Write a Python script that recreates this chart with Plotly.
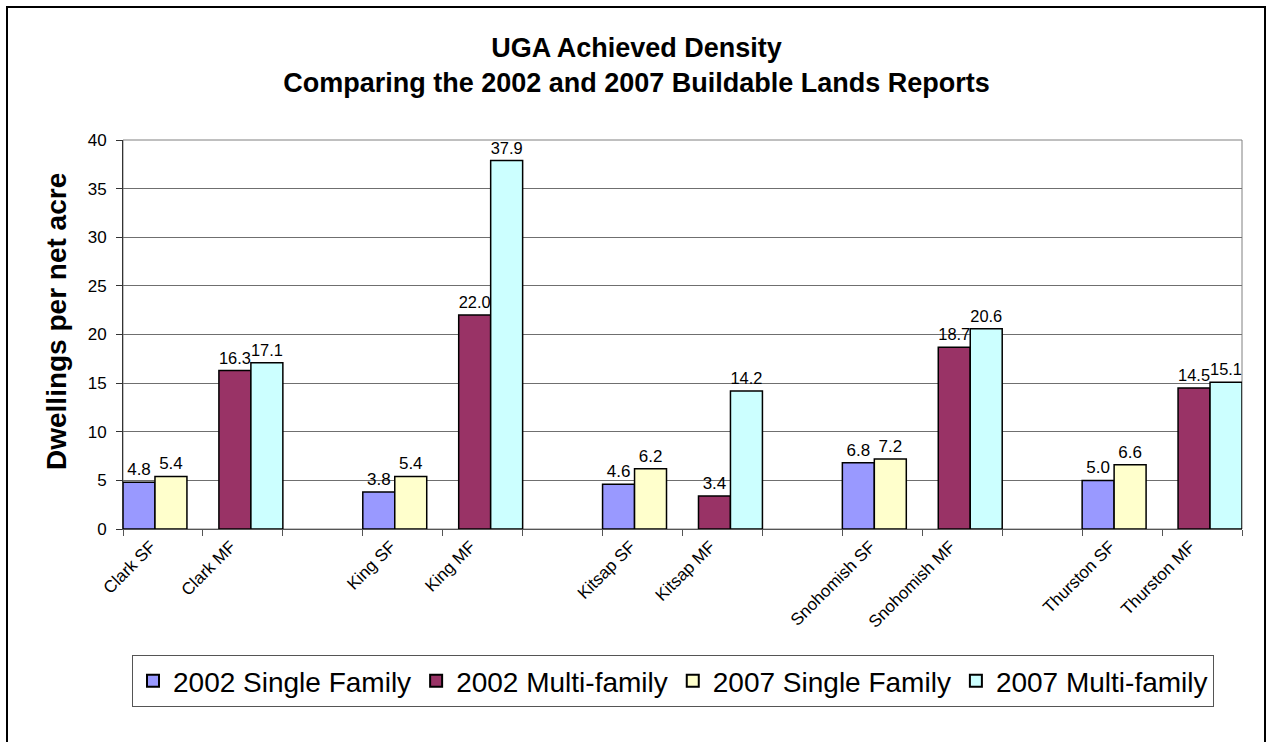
import plotly.graph_objects as go

# Category slots along the x axis; blank slots separate the counties
categories = ["Clark SF", "Clark MF", " ",
              "King SF", "King MF", "  ",
              "Kitsap SF", "Kitsap MF", "   ",
              "Snohomish SF", "Snohomish MF", "    ",
              "Thurston SF", "Thurston MF"]

# Dwellings per net acre
sf_2002 = [4.8, None, None, 3.8, None, None, 4.6, None, None, 6.8, None, None, 5.0, None]
mf_2002 = [None, 16.3, None, None, 22.0, None, None, 3.4, None, None, 18.7, None, None, 14.5]
sf_2007 = [5.4, None, None, 5.4, None, None, 6.2, None, None, 7.2, None, None, 6.6, None]
mf_2007 = [None, 17.1, None, None, 37.9, None, None, 14.2, None, None, 20.6, None, None, 15.1]

series_names = ["2002 Single Family", "2002 Multi-family",
                "2007 Single Family", "2007 Multi-family"]
series_values = [sf_2002, mf_2002, sf_2007, mf_2007]
series_colors = ["#9999FF", "#993366", "#FFFFCC", "#CCFFFF"]
# overlapping cluster: each bar 0.4 wide, shifted 0.2 from the previous series
bar_offsets = [-0.5, -0.3, -0.1, 0.1]

FONT = "Liberation Sans, Arial, sans-serif"

fig = go.Figure()
for name, vals, color, off in zip(series_names, series_values, series_colors, bar_offsets):
    fig.add_trace(go.Bar(
        x=categories,
        y=vals,
        name=name,
        width=0.4,
        offset=off,
        marker=dict(color=color, line=dict(color="#000000", width=1.5)),
        text=["" if v is None else f"{v:.1f}" for v in vals],
        textposition="outside",
        textfont=dict(family=FONT, size=17, color="#000000"),
        cliponaxis=False,
    ))

L, R, T, B = 123, 31, 140, 213
W, H = 1273, 742
pw, ph = W - L - R, H - T - B

def px_x(x):
    return (x - L) / pw

def px_y(y):
    return (H - B - y) / ph

fig.update_layout(
    width=W, height=H,
    margin=dict(l=L, r=R, t=T, b=B, autoexpand=False),
    barmode="overlay",
    paper_bgcolor="#FFFFFF",
    plot_bgcolor="#FFFFFF",
    font=dict(family=FONT, color="#000000"),
    title=dict(
        text="<b>UGA Achieved Density<br>Comparing the 2002 and 2007 Buildable Lands Reports</b>",
        x=0.5, xref="container", xanchor="center",
        y=1 - 57 / H, yref="container", yanchor="middle",
        font=dict(family=FONT, size=27, color="#000000"),
    ),
    xaxis=dict(
        type="category",
        categoryorder="array", categoryarray=categories,
        showgrid=False,
        showline=True, linecolor="#555555", linewidth=1,
        ticks="outside", tickson="boundaries", ticklen=6, tickcolor="#555555",
        tickangle=-45,
        ticklabelshift=-12,
        tickfont=dict(family=FONT, size=17, color="#000000"),
        range=[-0.5, len(categories) - 0.5],
        fixedrange=True,
    ),
    yaxis=dict(
        range=[0, 40], dtick=5, tick0=0,
        showgrid=True, gridcolor="#6f6f6f", gridwidth=1,
        showline=True, linecolor="#333333", linewidth=1,
        ticks="outside", ticklen=6, tickcolor="#333333",
        ticklabelstandoff=6,
        tickfont=dict(family=FONT, size=17, color="#000000"),
        zeroline=False,
        fixedrange=True,
    ),
    legend=dict(
        orientation="h",
        x=px_x(673), xanchor="center",
        y=px_y(655), yanchor="top",
        bordercolor="#555555", borderwidth=1,
        bgcolor="#FFFFFF",
        font=dict(family=FONT, size=28, color="#000000"),
        traceorder="normal",
        itemsizing="constant",
    ),
    showlegend=True,
    annotations=[dict(
        text="<b>Dwellings per net acre</b>",
        x=px_x(56), y=px_y(322), xref="paper", yref="paper",
        xanchor="center", yanchor="middle",
        textangle=-90, showarrow=False,
        font=dict(family=FONT, size=28, color="#000000"),
    )],
    shapes=[
        # plot-area frame
        dict(type="rect", xref="paper", yref="paper", x0=0, x1=1, y0=0, y1=1,
             line=dict(color="#808080", width=1), layer="below"),
        # outer chart frame
        dict(type="rect", xref="paper", yref="paper",
             x0=px_x(7), x1=px_x(1265), y0=px_y(H + 5), y1=px_y(7),
             line=dict(color="#000000", width=2)),
    ],
)

fig.write_html("out.html")
